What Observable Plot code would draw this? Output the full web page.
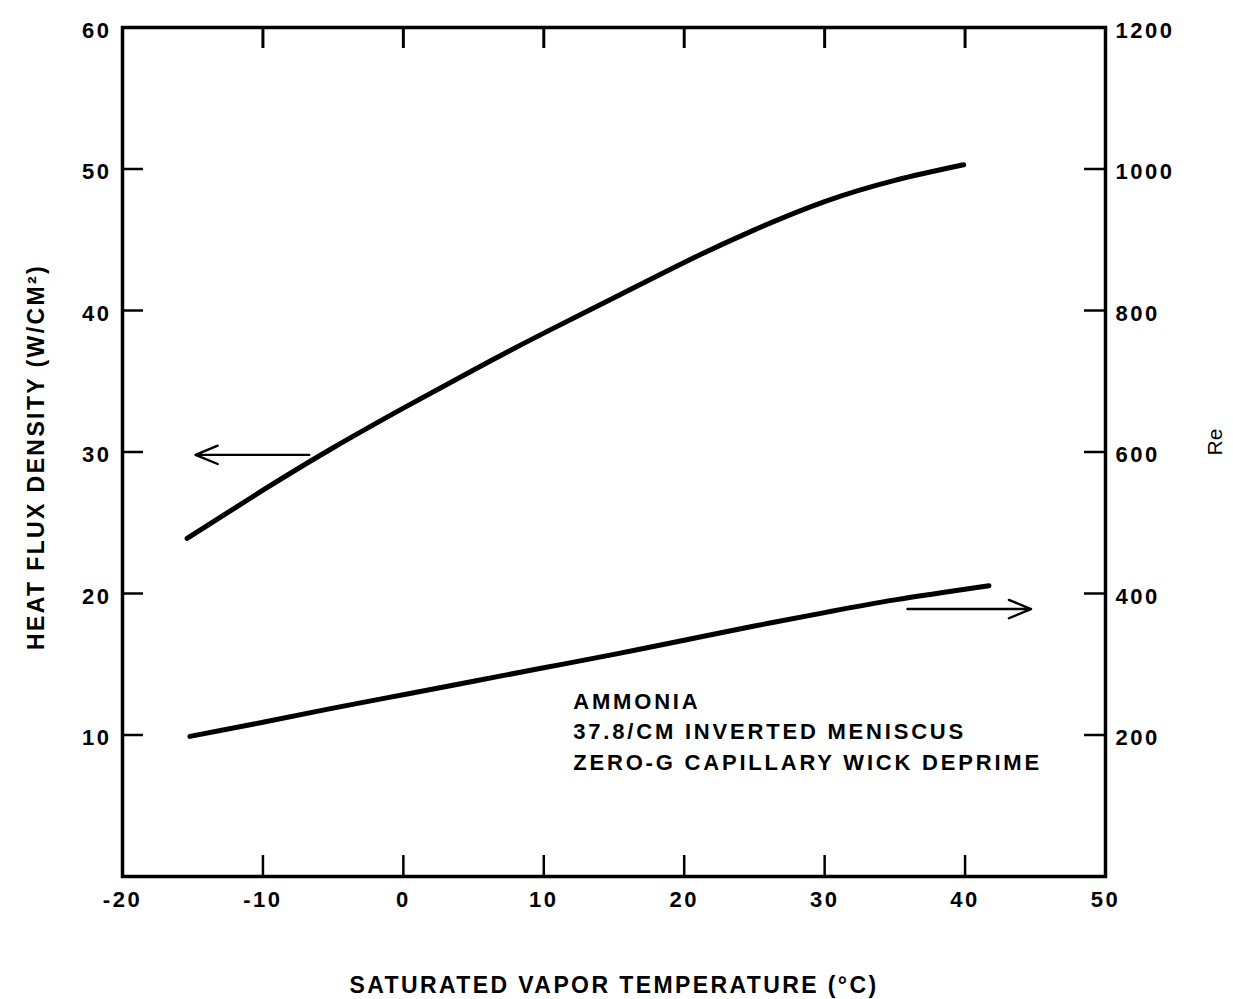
<!DOCTYPE html>
<html><head><meta charset="utf-8">
<script src="https://cdn.jsdelivr.net/npm/d3@7"></script>
<script src="https://cdn.jsdelivr.net/npm/@observablehq/plot@0.6"></script>
<style>
body{margin:0;background:#fff}
[aria-label$="tick label"]{letter-spacing:2.5px}
g[aria-label="text"][font-size="22"]{letter-spacing:2.8px}
g[aria-label="text"][font-size="23"]{letter-spacing:2.4px}
</style>
</head><body><div id="chart"></div>
<script>
// Heat flux density (left axis, W/cm^2) vs saturated vapor temperature (°C)
const fluxTemp = [-15.4, -10, -5, 0, 5, 10, 15, 20, 25, 30, 35, 39.9];
const fluxValue = [23.9, 27.3, 30.3, 33.1, 35.8, 38.4, 40.9, 43.4, 45.7, 47.7, 49.2, 50.3];
// Reynolds number (right axis)
const reTemp = [-15.2, -10, -5, 0, 5, 10, 15, 20, 25, 30, 35, 41.7];
const reValue = [198, 218, 238, 257, 276, 295, 314, 334, 354, 373, 391, 411];
// Direction arrows: [x1, x2, y(left-axis units)]
const arrowFrom = [-6.7, 35.9];
const arrowTo = [-14.8, 44.7];
const arrowY = [29.8, 18.9];
// tick values
const xTicks = [-20, -10, 0, 10, 20, 30, 40, 50];
const xInnerTicks = [-10, 0, 10, 20, 30, 40];
const yLeftTicks = [10, 20, 30, 40, 50, 60];
const yInnerTicks = [10, 20, 30, 40, 50];
const reTicks = [200, 400, 600, 800, 1000, 1200];
const annotationLines = ["AMMONIA", "37.8/CM INVERTED MENISCUS", "ZERO-G CAPILLARY WICK DEPRIME"];
const annotationPos = {x: 12.1, y: 10.4};
const xLabel = "SATURATED VAPOR TEMPERATURE (°C)";
const yLabel = "HEAT FLUX DENSITY (W/CM²)";
const reLabel = "Re";

const yMax = 60, reMax = 1200;
const k = yMax / reMax; // Re -> left axis units

const flux = fluxTemp.map((t, i) => ({t, v: fluxValue[i]}));
const re = reTemp.map((t, i) => ({t, v: reValue[i] * k}));
const arrows = arrowFrom.map((x1, i) => ({x1, x2: arrowTo[i], y: arrowY[i]}));

const W = 1233, H = 999;
const mL = 122, mR = 128, mT = 27, mB = 123;
const plotH = H - mT - mB, plotW = W - mL - mR;
const tickLen = 21;
const font = "'Liberation Sans', Arial, Helvetica, sans-serif";

const chart = Plot.plot({
  width: W, height: H,
  marginLeft: mL, marginRight: mR, marginTop: mT, marginBottom: mB,
  style: {fontFamily: font, color: "#000", background: "#fff"},
  x: {domain: [-20, 50]},
  y: {domain: [0, yMax]},
  marks: [
    Plot.frame({stroke: "#000", strokeWidth: 3.5}),
    // inward ticks
    Plot.tickX(xInnerTicks, {x: d => d, insetTop: plotH - tickLen, stroke: "#000", strokeWidth: 2.5}),
    Plot.tickX(xInnerTicks, {x: d => d, insetBottom: plotH - tickLen, stroke: "#000", strokeWidth: 3}),
    Plot.tickY(yInnerTicks, {y: d => d, insetRight: plotW - tickLen, stroke: "#000", strokeWidth: 2.5}),
    Plot.tickY(yInnerTicks, {y: d => d, insetLeft: plotW - tickLen, stroke: "#000", strokeWidth: 2.5}),
    // axes (labels only)
    Plot.axisX(xTicks, {anchor: "bottom", tickSize: 0, tickPadding: 15, label: null, fontSize: 22, fontWeight: "bold", tickFormat: d => String(d)}),
    Plot.axisY(yLeftTicks, {anchor: "left", tickSize: 0, tickPadding: 11, label: null, fontSize: 22, fontWeight: "bold", dy: 3, tickFormat: d => String(d)}),
    Plot.axisY(reTicks.map(r => r * k), {anchor: "right", tickSize: 0, tickPadding: 10, label: null, fontSize: 22, fontWeight: "bold", tickFormat: d => String(Math.round(d / k)), dy: 3}),
    // curves
    Plot.line(flux, {x: "t", y: "v", curve: "natural", stroke: "#000", strokeWidth: 5, strokeLinecap: "round"}),
    Plot.line(re, {x: "t", y: "v", curve: "natural", stroke: "#000", strokeWidth: 5, strokeLinecap: "round"}),
    Plot.arrow(arrows, {x1: "x1", x2: "x2", y1: "y", y2: "y", stroke: "#000", strokeWidth: 2.4, headLength: 15, headAngle: 45}),
    // annotation
    Plot.text([annotationLines.join("\n")], {x: annotationPos.x, y: annotationPos.y, textAnchor: "start", lineAnchor: "middle", lineHeight: 1.39, fontSize: 22, fontWeight: "bold", fill: "#000"}),
    // axis titles
    Plot.text([xLabel], {frameAnchor: "bottom", textAnchor: "middle", dy: 116, fontSize: 23, fontWeight: "bold", fill: "#000"}),
    Plot.text([yLabel], {frameAnchor: "left", textAnchor: "middle", rotate: -90, dx: -86, dy: 5, fontSize: 23, fontWeight: "bold", fill: "#000"}),
    Plot.text([reLabel], {frameAnchor: "right", textAnchor: "middle", rotate: -90, dx: 110, dy: -10, fontSize: 21, fill: "#000"})
  ]
});
document.getElementById("chart").appendChild(chart);
</script>
</body></html>
